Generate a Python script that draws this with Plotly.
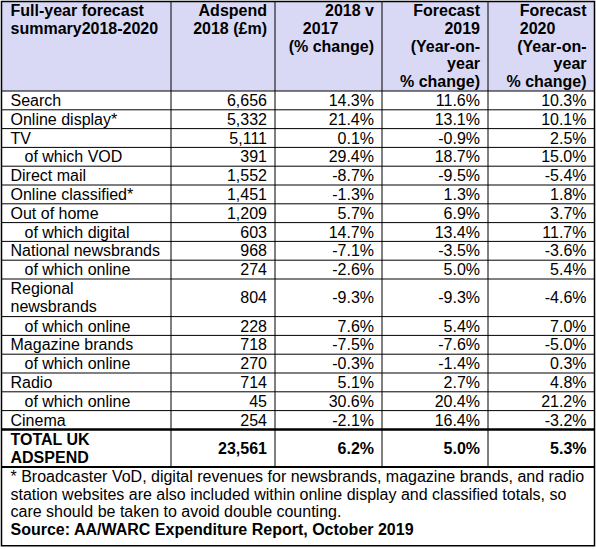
import plotly.graph_objects as go

# ---------------- data ----------------
column_headers = [
    "Full-year forecast\nsummary2018-2020",
    "Adspend\n2018 (£m)",
    "2018 v\n2017\u00a0\u00a0\u00a0\u00a0\u00a0\u00a0\u00a0\u00a0\n(% change)",
    "Forecast\n2019\n(Year-on-\nyear\n% change)",
    "Forecast\n2020\u00a0\u00a0\u00a0\u00a0\u00a0\u00a0\u00a0\n(Year-on-\nyear\n% change)",
]
categories = [
    "Search", "Online display*", "TV", "of which VOD", "Direct mail",
    "Online classified*", "Out of home", "of which digital",
    "National newsbrands", "of which online", "Regional\nnewsbrands",
    "of which online", "Magazine brands", "of which online", "Radio",
    "of which online", "Cinema", "TOTAL UK\nADSPEND",
]
adspend_2018 = [6656, 5332, 5111, 391, 1552, 1451, 1209, 603, 968, 274,
                804, 228, 718, 270, 714, 45, 254, 23561]
change_2018_v_2017 = [14.3, 21.4, 0.1, 29.4, -8.7, -1.3, 5.7, 14.7, -7.1, -2.6,
                      -9.3, 7.6, -7.5, -0.3, 5.1, 30.6, -2.1, 6.2]
forecast_2019 = [11.6, 13.1, -0.9, 18.7, -9.5, 1.3, 6.9, 13.4, -3.5, 5.0,
                 -9.3, 5.4, -7.6, -1.4, 2.7, 20.4, 16.4, 5.0]
forecast_2020 = [10.3, 10.1, 2.5, 15.0, -5.4, 1.8, 3.7, 11.7, -3.6, 5.4,
                 -4.6, 7.0, -5.0, 0.3, 4.8, 21.2, -3.2, 5.3]
footnote_lines = [
    "* Broadcaster VoD, digital revenues for newsbrands, magazine brands, and radio",
    "station websites are also included within online display and classified totals, so",
    "care should be taken to avoid double counting.",
]
source_line = "Source: AA/WARC Expenditure Report, October 2019"

# ---------------- style / layout ----------------
W, H = 596, 549
FONT = "Liberation Sans, Arial, Helvetica, sans-serif"
FS = 16
col_edges = [1.5, 171, 275, 382, 488, 594.5]
PAD_L, PAD_R, INDENT = 9, 8, 14
TOP = 1.5
HEADER_H = 89.5
ROW_H = 18.8
LINE_H = 17.7
SHIFT = 1.5
HEADER_FILL = "#D9D9F5"

groups = {}


def add_text(x, y, text, align, bold):
    key = (align, bold)
    g = groups.setdefault(key, {"x": [], "y": [], "t": []})
    g["x"].append(x)
    g["y"].append(y + SHIFT)
    g["t"].append(text)


def col_x(ci, align, indent=0):
    if align == "left":
        return col_edges[ci] + PAD_L + indent
    return col_edges[ci + 1] - PAD_R


# header
for ci, head in enumerate(column_headers):
    align = "left" if ci == 0 else "right"
    for li, line in enumerate(head.split("\n")):
        y = TOP + 0.5 + LINE_H / 2 + li * LINE_H
        add_text(col_x(ci, align), y, line, align, True)

header_bottom = TOP + HEADER_H
row_bounds = [header_bottom]
n_rows = len(categories)
for ri in range(n_rows):
    label = categories[ri]
    lines = label.split("\n")
    h = ROW_H * len(lines)
    y0 = row_bounds[-1]
    yc = y0 + h / 2
    is_total = ri == n_rows - 1
    indent = INDENT if label.startswith("of which") else 0
    for li, line in enumerate(lines):
        y = yc + (li - (len(lines) - 1) / 2) * LINE_H
        add_text(col_x(0, "left", indent), y, line, "left", is_total)
    vals = [f"{adspend_2018[ri]:,}",
            f"{change_2018_v_2017[ri]:.1f}%",
            f"{forecast_2019[ri]:.1f}%",
            f"{forecast_2020[ri]:.1f}%"]
    for ci, v in enumerate(vals, start=1):
        add_text(col_x(ci, "right"), yc, v, "right", is_total)
    row_bounds.append(y0 + h)

foot_top = row_bounds[-1]
all_foot = footnote_lines + [source_line]
for li, line in enumerate(all_foot):
    y = foot_top + 0.5 + LINE_H / 2 + li * LINE_H
    add_text(col_x(0, "left"), y, line, "left", li == len(all_foot) - 1)
foot_bottom = foot_top + len(all_foot) * LINE_H + 8

fig = go.Figure()
for (align, bold), g in groups.items():
    fig.add_trace(go.Scatter(
        x=g["x"], y=g["y"], text=g["t"], mode="text",
        textposition="middle right" if align == "left" else "middle left",
        textfont=dict(family=FONT, size=FS, color="black",
                      weight="bold" if bold else "normal"),
        hoverinfo="skip", showlegend=False, cliponaxis=False,
    ))

shapes = []
L, R = col_edges[0], col_edges[-1]
shapes.append(dict(type="rect", xref="x", yref="y", x0=L, x1=R, y0=TOP,
                   y1=header_bottom, fillcolor=HEADER_FILL, line_width=0,
                   layer="below"))
for i, yb in enumerate(row_bounds):
    width = 1
    if i == len(row_bounds) - 2:
        width = 2.5
    elif i == len(row_bounds) - 1:
        width = 2
    shapes.append(dict(type="line", xref="x", yref="y", x0=L, x1=R, y0=yb,
                       y1=yb, line=dict(color="black", width=width)))
for xe in col_edges[1:-1]:
    shapes.append(dict(type="line", xref="x", yref="y", x0=xe, x1=xe,
                       y0=TOP, y1=foot_top, line=dict(color="black", width=1)))
shapes.append(dict(type="rect", xref="x", yref="y", x0=L, x1=R, y0=TOP,
                   y1=foot_bottom, line=dict(color="black", width=1.5)))

fig.update_layout(
    width=W, height=H, margin=dict(l=0, r=0, t=0, b=0),
    paper_bgcolor="white", plot_bgcolor="white",
    xaxis=dict(range=[0, W], visible=False, fixedrange=True),
    yaxis=dict(range=[H, 0], visible=False, fixedrange=True),
    shapes=shapes, showlegend=False,
)
fig.write_html(
    "out.html",
    config={"displayModeBar": False},
    post_script="document.body.style.margin='0';document.body.style.overflow='hidden';",
)
